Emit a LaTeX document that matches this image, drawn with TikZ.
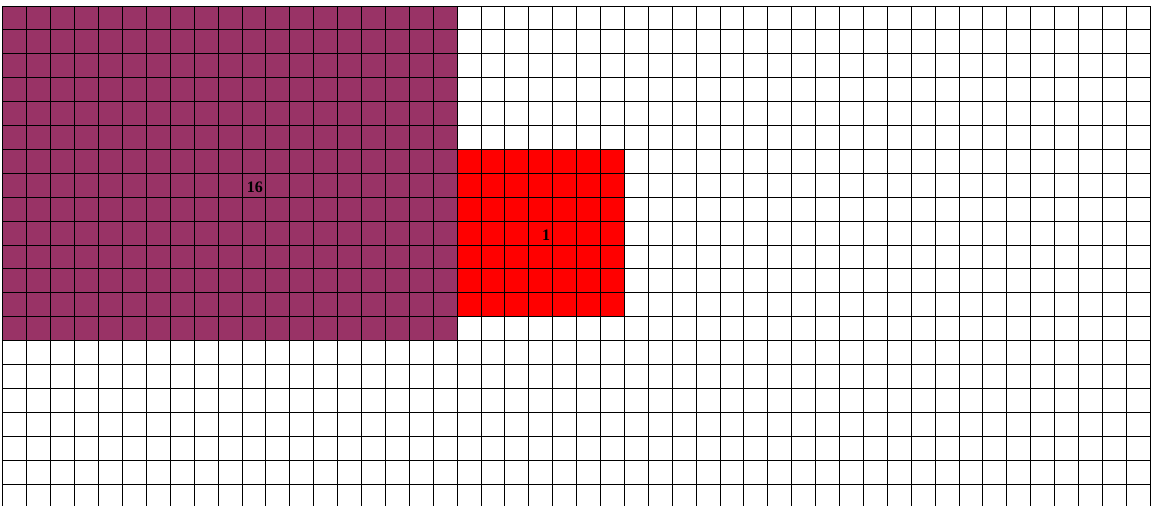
\documentclass[tikz,border=0pt]{standalone}
\usepackage{fontspec}
\setmainfont{Liberation Serif}
\definecolor{tilepurple}{HTML}{993366}
\definecolor{tilered}{HTML}{FF0000}
\tikzset{
  gridline/.style={black, line width=0.57pt},
  bigtile/.style={fill=tilepurple},
  smalltile/.style={fill=tilered},
  tilelbl/.style={font=\bfseries\fontsize{9.1}{11}\selectfont, inner sep=0pt},
}

\begin{document}
\begin{tikzpicture}[x=0.478cm, y=-0.478cm]
    \useasboundingbox (-0.1255,-0.251) rectangle (48.075,20.92);
    \clip (-0.1255,-0.251) rectangle (48.075,20.92);
    % coloured blocks
    \fill[bigtile] (0,0) rectangle (19,14);
    \fill[smalltile] (19,6) rectangle (26,13);
    % the grid
    \foreach \i in {0,...,48}
      \draw[gridline] (\i,0) -- (\i,21);
    \foreach \j in {0,...,20}
      \draw[gridline] (0,\j) -- (48,\j);
    % counts
    \node[tilelbl] (big) at (10.54,7.57) {16};
    \node[tilelbl] (small) at (22.72,9.58) {1};
  \end{tikzpicture}
\end{document}
